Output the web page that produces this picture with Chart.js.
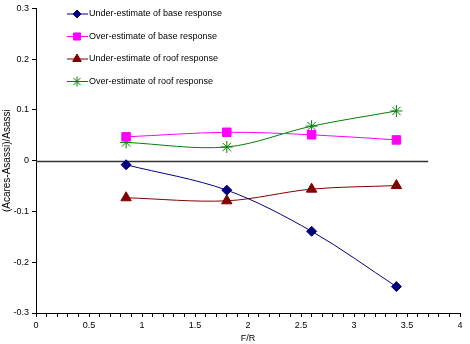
<!DOCTYPE html>
<html>
<head>
<meta charset="utf-8">
<script src="https://cdn.jsdelivr.net/npm/chart.js@4"></script>
<style>
  html, body { margin: 0; padding: 0; background: #fff; }
</style>
</head>
<body>
<canvas id="myChart" width="470" height="344"></canvas>
<script>
// F/R values and the four response ratios
let fr = [0.85, 1.8, 2.6, 3.4];
let baseUnder = [-0.008, -0.058, -0.139, -0.248];
let baseOver = [0.047, 0.056, 0.051, 0.041];
let roofUnder = [-0.073, -0.079, -0.056, -0.049];
let roofOver = [0.036, 0.027, 0.068, 0.098];
let seriesNames = ['Under-estimate of base response', 'Over-estimate of base response',
    'Under-estimate of roof response', 'Over-estimate of roof response'];
let zeroLineEnd = 3.7;

let FONT = '"Liberation Sans", Arial, sans-serif';

let pts = (ys) => fr.map((x, i) => ({ x: x, y: ys[i] }));

// zero reference line across most of the plot
let zeroLine = {
    id: 'zeroLine',
    beforeDatasetsDraw(chart) {
        let ctx = chart.ctx, xs = chart.scales.x, ys = chart.scales.y;
        let y = Math.round(ys.getPixelForValue(0)) + 0.5;
        ctx.save();
        ctx.strokeStyle = '#333';
        ctx.lineWidth = 1.5;
        ctx.beginPath();
        ctx.moveTo(xs.getPixelForValue(0), y);
        ctx.lineTo(xs.getPixelForValue(zeroLineEnd), y);
        ctx.stroke();
        ctx.restore();
    }
};

// legend drawn inside the plot, one entry under another
let boxLegend = {
    id: 'boxLegend',
    afterDraw(chart) {
        let c = chart.ctx;
        c.save();
        c.font = '9px ' + FONT;
        c.textBaseline = 'middle';
        chart.data.datasets.forEach((ds, i) => {
            let y = 14 + i * 22.5;
            c.strokeStyle = ds.borderColor;
            c.fillStyle = ds.borderColor;
            c.lineWidth = 1;
            c.beginPath();
            c.moveTo(67, y);
            c.lineTo(88, y);
            c.stroke();
            Chart.helpers.drawPoint(c, {
                pointStyle: ds.pointStyle, radius: ds.legendRadius,
                rotation: 0, borderWidth: 1
            }, 77, y);
            c.fillStyle = '#000';
            c.fillText(ds.label, 89, y);
        });
        c.restore();
    }
};

let mk = (label, data, color, style, r, lr) => ({
    label: label,
    data: pts(data),
    borderColor: color,
    backgroundColor: color,
    pointStyle: style,
    pointRadius: r,
    pointHoverRadius: r,
    pointBorderColor: color,
    pointBackgroundColor: color,
    borderWidth: 1,
    tension: 0.33,
    legendRadius: lr
});

let newChart = () => {
    let ctx = document.getElementById('myChart').getContext('2d');
    let datasets = [
        mk(seriesNames[0], baseUnder, '#000080', 'rectRot', 5, 4),
        mk(seriesNames[1], baseOver, '#FF00FF', 'rect', 6, 5),
        mk(seriesNames[2], roofUnder, '#800000', 'triangle', 6, 5),
        mk(seriesNames[3], roofOver, '#008000', 'star', 6, 5)
    ];
    new Chart(ctx, {
        type: 'scatter',
        data: { datasets: datasets },
        plugins: [zeroLine, boxLegend],
        options: {
            responsive: false,
            animation: false,
            showLine: true,
            layout: { padding: { top: 4, right: 10, left: 0, bottom: 0 } },
            plugins: {
                legend: { display: false },
                tooltip: { enabled: false }
            },
            scales: {
                x: {
                    type: 'linear',
                    min: 0, max: 4,
                    afterFit: (s) => { s.height = 31; },
                    border: { color: '#000', width: 1 },
                    grid: { drawOnChartArea: false, color: '#000', tickLength: 4 },
                    ticks: {
                        stepSize: 0.1,
                        autoSkip: false,
                        maxRotation: 0,
                        padding: 3,
                        color: '#000',
                        font: { family: FONT, size: 9 },
                        callback: (v) => {
                            let r = Math.round(v * 10);
                            return r % 5 === 0 ? String(r / 10) : '';
                        }
                    },
                    title: {
                        display: true, text: 'F/R', color: '#000', padding: 0,
                        font: { family: FONT, size: 9 }
                    }
                },
                y: {
                    min: -0.3, max: 0.3,
                    afterFit: (s) => { s.width = 36; },
                    border: { color: '#000', width: 1 },
                    grid: { drawOnChartArea: false, color: '#000', tickLength: 4 },
                    ticks: {
                        stepSize: 0.1,
                        padding: 3,
                        color: '#000',
                        font: { family: FONT, size: 9 },
                        callback: (v) => String(Math.round(v * 10) / 10)
                    },
                    title: {
                        display: true, text: '(Acares-Asassi)/Asassi', color: '#000',
                        padding: { top: 1, bottom: 0 },
                        font: { family: FONT, size: 10 }
                    }
                }
            }
        }
    });
};

newChart();
</script>
</body>
</html>
